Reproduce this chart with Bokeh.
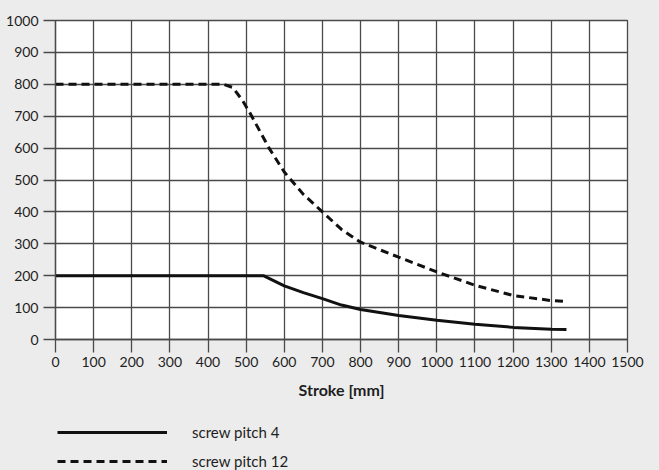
from bokeh.plotting import figure
from bokeh.models import FixedTicker, Legend, LegendItem, Range1d, ColumnDataSource
from bokeh.layouts import column
from bokeh.embed import file_html
from bokeh.resources import INLINE

# Data
stroke_pitch4 = [0, 545, 600, 650, 700, 750, 800, 900, 1000, 1100, 1200, 1300, 1340]
force_pitch4 = [200, 200, 168, 147, 128, 108, 94, 75, 60, 48, 38, 32, 31]

stroke_pitch12 = [0, 440, 465, 490, 510, 560, 600, 650, 700, 750, 800, 900, 1000, 1100, 1200, 1300, 1340]
force_pitch12 = [800, 800, 790, 750, 710, 600, 525, 455, 400, 345, 305, 258, 212, 170, 138, 122, 119]

x_ticks = list(range(0, 1501, 100))
y_ticks = list(range(0, 1001, 100))
x_label = "Stroke [mm]"
legend_labels = ["screw pitch 4", "screw pitch 12"]

FONT = "Lato"
BG = "#ececec"
TXT = "#1e1e1e"
GRID = "#4a4a4a"
LINE = "#111111"

src4 = ColumnDataSource(dict(x=stroke_pitch4, y=force_pitch4))
src12 = ColumnDataSource(dict(x=stroke_pitch12, y=force_pitch12))

p = figure(width=659, height=410, output_backend="svg", toolbar_location=None,
           x_range=Range1d(0, 1500), y_range=Range1d(0, 1000),
           min_border_left=55, min_border_right=32, min_border_top=20, min_border_bottom=71)
p.background_fill_color = "white"
p.border_fill_color = BG
p.outline_line_color = GRID
p.outline_line_width = 1.3

p.xaxis.ticker = FixedTicker(ticks=x_ticks)
p.yaxis.ticker = FixedTicker(ticks=y_ticks)
p.xgrid.ticker = FixedTicker(ticks=x_ticks)
p.ygrid.ticker = FixedTicker(ticks=y_ticks)
for g in (p.xgrid, p.ygrid):
    g.grid_line_color = GRID
    g.grid_line_width = 1.3
    g.grid_line_alpha = 1.0

for ax in (p.xaxis, p.yaxis):
    ax.axis_line_color = GRID
    ax.axis_line_width = 1.3
    ax.major_tick_line_color = GRID
    ax.major_tick_line_width = 1.3
    ax.major_tick_in = 0
    ax.minor_tick_line_color = None
    ax.major_label_text_font = FONT
    ax.major_label_text_font_size = "14px"
    ax.major_label_text_color = TXT

p.xaxis.major_tick_out = 13
p.yaxis.major_tick_out = 12
p.xaxis.major_label_standoff = 4
p.yaxis.major_label_standoff = 5

p.xaxis.axis_label = x_label
p.xaxis.axis_label_text_font = FONT
p.xaxis.axis_label_text_font_style = "bold"
p.xaxis.axis_label_text_font_size = "16px"
p.xaxis.axis_label_text_color = TXT
p.xaxis.axis_label_standoff = 10

p.line("x", "y", source=src4, line_color=LINE, line_width=3)
p.line("x", "y", source=src12, line_color=LINE, line_width=3, line_dash="8 5")

# legend strip below the chart (its lines share the chart's data, outside this strip's view)
lg = figure(width=659, height=60, output_backend="svg", toolbar_location=None,
            x_range=Range1d(0, 1), y_range=Range1d(0, 1),
            min_border_left=55, min_border_right=32, min_border_top=0, min_border_bottom=0)
lg.axis.visible = False
lg.grid.visible = False
lg.background_fill_alpha = 0
lg.border_fill_color = BG
lg.outline_line_color = None
k4 = lg.line("x", "y", source=src4, line_color=LINE, line_width=3)
k12 = lg.line("x", "y", source=src12, line_color=LINE, line_width=3, line_dash="8 5")

legend = Legend(items=[LegendItem(label=legend_labels[0], renderers=[k4]),
                       LegendItem(label=legend_labels[1], renderers=[k12])],
                location=(2, 0), orientation="vertical",
                glyph_width=110, glyph_height=14, label_height=14,
                label_standoff=25, spacing=11, padding=0, margin=0,
                background_fill_alpha=0, border_line_color=None,
                label_text_font=FONT, label_text_font_size="15px", label_text_color=TXT)
lg.add_layout(legend, "center")

layout = column(p, lg, spacing=0, styles={"background-color": BG})
open("out.html", "w").write(file_html(layout, INLINE))
